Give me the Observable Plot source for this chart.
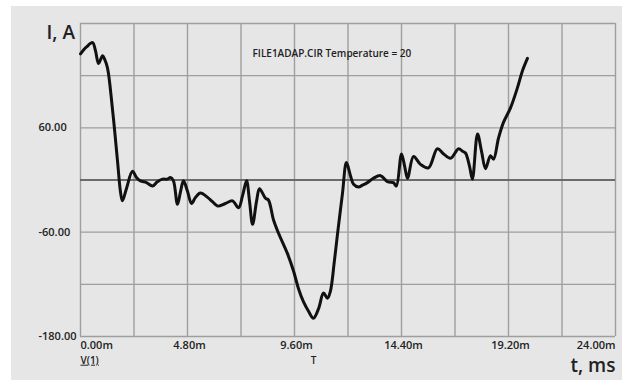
<!DOCTYPE html>
<html><head><meta charset="utf-8">
<script src="https://cdn.jsdelivr.net/npm/d3@7"></script>
<script src="https://cdn.jsdelivr.net/npm/@observablehq/plot@0.6"></script>
<style>
html,body{margin:0;padding:0;background:#fff;}
#wrap{position:relative;width:627px;height:380px;overflow:hidden;}
#panel{position:absolute;left:11px;top:6px;width:611px;height:374px;background:#e6e6e6;}
#chart{position:absolute;left:0;top:0;}
</style></head><body>
<div id="wrap"><div id="panel"></div><div id="chart"></div></div>
<script>
// time in ms, current in A
const timeMs = [0, 0.27, 0.54, 0.67, 0.81, 0.99, 1.08, 1.21, 1.44, 1.66, 1.79, 1.88, 2.06, 2.33, 2.51, 2.69, 2.96, 3.23, 3.45, 3.68, 3.90, 4.04, 4.17, 4.35, 4.49, 4.62, 4.80, 4.98, 5.16, 5.38, 5.70, 5.92, 6.15, 6.50, 6.82, 7.09, 7.27, 7.45, 7.58, 7.72, 7.90, 8.03, 8.30, 8.43, 8.66, 8.88, 9.29, 9.56, 9.78, 10.0, 10.23, 10.45, 10.68, 10.90, 11.08, 11.21, 11.39, 11.53, 11.75, 11.93, 12.11, 12.25, 12.47, 12.65, 12.87, 13.14, 13.46, 13.77, 14.04, 14.17, 14.40, 14.54, 14.67, 14.94, 15.25, 15.61, 16.01, 16.29, 16.60, 16.96, 17.14, 17.27, 17.45, 17.58, 17.81, 17.99, 18.17, 18.39, 18.53, 18.75, 18.97, 19.29, 19.60, 19.83, 20.05];
const currentA = [145, 153, 158, 149, 134, 143, 139, 129, 80, 22, -13, -24, -10, 10, 3, -1, -3, -7, -2, 1, 1, 3, -1, -28, -13, -1, -13, -27, -20, -15, -20, -25, -30, -27, -24, -32, -18, -1, -24, -51, -24, -10, -21, -23, -46, -61, -85, -105, -125, -140, -151, -159, -148, -130, -136, -128, -93, -62, -16, 20, 5, -5, -8, -6, -3, 2, 5, -2, -3, -7, 30, 16, 2, 27, 18, 14, 36, 30, 25, 36, 33, 31, 16, 1, 53, 33, 13, 28, 24, 48, 66, 83, 106, 126, 140];

const xGridLines = [0, 2.4, 4.8, 7.2, 9.6, 12, 14.4, 16.8, 19.2, 21.6, 24];
const yGridLines = [-180, -120, -60, 0, 60, 120, 180];
const xTickValues = [0, 4.8, 9.6, 14.4, 19.2, 24];
const xTickLabels = ["0.00m", "4.80m", "9.60m", "14.40m", "19.20m", "24.00m"];
const yTickValues = [60, -60, -180];
const yTickLabels = ["60.00", "-60.00", "-180.00"];
const titleText = "FILE1ADAP.CIR Temperature = 20";
const yAxisTitle = "I, A";
const xAxisTitle = "t, ms";
const traceName = "V(1)";
const xVarName = "T";

const data = timeMs.map((t, i) => ({t, I: currentA[i]}));
const xFmt = d => xTickLabels[xTickValues.indexOf(d)];
const yFmt = d => yTickLabels[yTickValues.indexOf(d)];
const font = "'Open Sans', sans-serif";
const txt = {fill: "#222", fontFamily: font};

const plot = Plot.plot({
  width: 627, height: 380,
  marginLeft: 80, marginRight: 12, marginTop: 23, marginBottom: 44,
  style: {background: "transparent", fontFamily: font},
  x: {domain: [0, 24]},
  y: {domain: [-180, 180]},
  marks: [
    Plot.gridX(xGridLines, {stroke: "#9e9e9e", strokeOpacity: 1, strokeWidth: 1.4}),
    Plot.gridY(yGridLines, {stroke: "#9e9e9e", strokeOpacity: 1, strokeWidth: 1.4}),
    Plot.ruleY([0], {stroke: "#555", strokeWidth: 1.4}),
    Plot.axisY(yTickValues, {tickSize: 0, tickPadding: 0, textAnchor: "start", dx: -42, tickFormat: yFmt, label: null, fontSize: 11, fontWeight: 600, ...txt}),
    Plot.axisX([xTickValues[0]], {tickSize: 0, tickPadding: 5, textAnchor: "start", tickFormat: xFmt, label: null, fontSize: 11, fontWeight: 600, ...txt}),
    Plot.axisX(xTickValues.slice(1, -1), {tickSize: 0, tickPadding: 5, textAnchor: "middle", dx: 2, tickFormat: xFmt, label: null, fontSize: 11, fontWeight: 600, ...txt}),
    Plot.axisX(xTickValues.slice(-1), {tickSize: 0, tickPadding: 5, textAnchor: "end", tickFormat: xFmt, label: null, fontSize: 11, fontWeight: 600, ...txt}),
    Plot.line(data, {x: "t", y: "I", stroke: "#111", strokeWidth: 3, curve: "catmull-rom"}),
    Plot.text([titleText], {frameAnchor: "top-left", dx: 172, dy: 30, textAnchor: "start", lineAnchor: "middle", fontSize: 10, fontWeight: 600, letterSpacing: -0.3, ...txt}),
    Plot.text([yAxisTitle], {frameAnchor: "top-left", dx: -34, dy: 9, textAnchor: "start", lineAnchor: "middle", fontSize: 19, fontWeight: 600, ...txt}),
    Plot.text([xAxisTitle], {frameAnchor: "bottom-right", dx: 0, dy: 29, textAnchor: "end", lineAnchor: "middle", fontSize: 19, fontWeight: 600, ...txt}),
    Plot.text([traceName], {frameAnchor: "bottom-left", dx: 0, dy: 24, textAnchor: "start", lineAnchor: "middle", fontSize: 10, fontWeight: 600, ...txt}),
    Plot.text([xVarName], {frameAnchor: "bottom-left", dx: 233, dy: 24, textAnchor: "middle", lineAnchor: "middle", fontSize: 10, fontWeight: 600, ...txt})
  ]
});
d3.select(plot).selectAll("text").filter(function() { return this.textContent === traceName; }).style("text-decoration", "underline");
document.getElementById("chart").appendChild(plot);
</script>
</body></html>
